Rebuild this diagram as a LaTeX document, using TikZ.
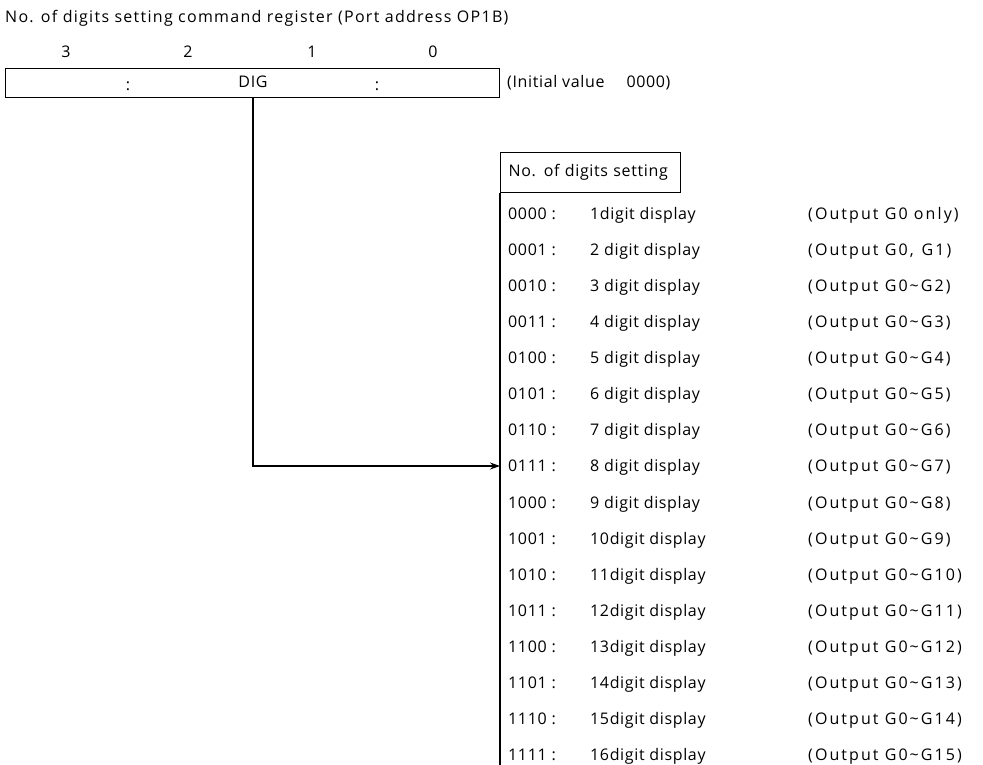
\documentclass[tikz,border=0pt]{standalone}
\usepackage{fontspec}
\setmainfont{Open Sans}
\usetikzlibrary{arrows.meta}
\newcommand\mytilde{\kern2pt\textasciitilde\kern2pt}
\begin{document}
\begin{tikzpicture}[x=1pt,y=-1pt,
  txt/.style={inner sep=0pt,font=\fontsize{16}{18}\selectfont\addfontfeature{LetterSpace=4}},
  lbl/.style={txt,anchor=base west},
  bitno/.style={txt,anchor=base},
  box/.style={draw,line width=1.2pt},
  conn/.style={line width=1.2pt,-{Stealth[length=10pt,width=7pt]}}]
\useasboundingbox[fill=white] (0,0) rectangle (983,765);
% title
\node[lbl,font=\fontsize{16}{18}\selectfont\addfontfeature{LetterSpace=8}] (title) at (5,23) {No. of digits setting command register (Port address OP1B)};
% bit numbers
\node[bitno] (b3) at (66,58) {3};
\node[bitno] (b2) at (188,58) {2};
\node[bitno] (b1) at (312,58) {1};
\node[bitno] (b0) at (433,58) {0};
% register
\node[box,anchor=north west,minimum width=494pt,minimum height=29pt,inner sep=0pt] (reg) at (5,68) {};
\node[bitno] (dig) at (253,88) {DIG};
\node[bitno] (sep1) at (128,91) {:};
\node[bitno] (sep2) at (377,91) {:};
\node[lbl] (init) at (507,88) {(Initial value\hspace{22pt}0000)};
% header box
\node[box,anchor=north west,txt,minimum height=40pt,text width=164pt,inner xsep=8pt,inner ysep=0pt,align=left] (hdr) at (500,152) {No. of digits setting};
\coordinate (bot) at (500,765);
\draw[line width=1.2pt] (hdr.south west) -- (bot);
% rows
\foreach \c/\d/\o [count=\i from 0] in {
  0000/1digit display/(Output G0 only),
  0001/2 digit display/{(Output G0,\hspace{8pt}G1)},
  0010/3 digit display/(Output G0\mytilde G2),
  0011/4 digit display/(Output G0\mytilde G3),
  0100/5 digit display/(Output G0\mytilde G4),
  0101/6 digit display/(Output G0\mytilde G5),
  0110/7 digit display/(Output G0\mytilde G6),
  0111/8 digit display/(Output G0\mytilde G7),
  1000/9 digit display/(Output G0\mytilde G8),
  1001/10digit display/(Output G0\mytilde G9),
  1010/11digit display/(Output G0\mytilde G10),
  1011/12digit display/(Output G0\mytilde G11),
  1100/13digit display/(Output G0\mytilde G12),
  1101/14digit display/(Output G0\mytilde G13),
  1110/15digit display/(Output G0\mytilde G14),
  1111/16digit display/(Output G0\mytilde G15)}{
  \pgfmathsetmacro\yy{219+\i*36.13}
  \node[lbl] (r\i) at (508,\yy) {\c\ :};
  \node[lbl] (d\i) at (590,\yy) {\d};
  \node[lbl,font=\fontsize{16}{18}\selectfont\addfontfeature{LetterSpace=13}] (o\i) at (808,\yy) {\o};
}
% connector
\coordinate (tip) at (500,466);
\draw[conn] (dig.south |- reg.south) |- (tip);
\end{tikzpicture}
\end{document}
